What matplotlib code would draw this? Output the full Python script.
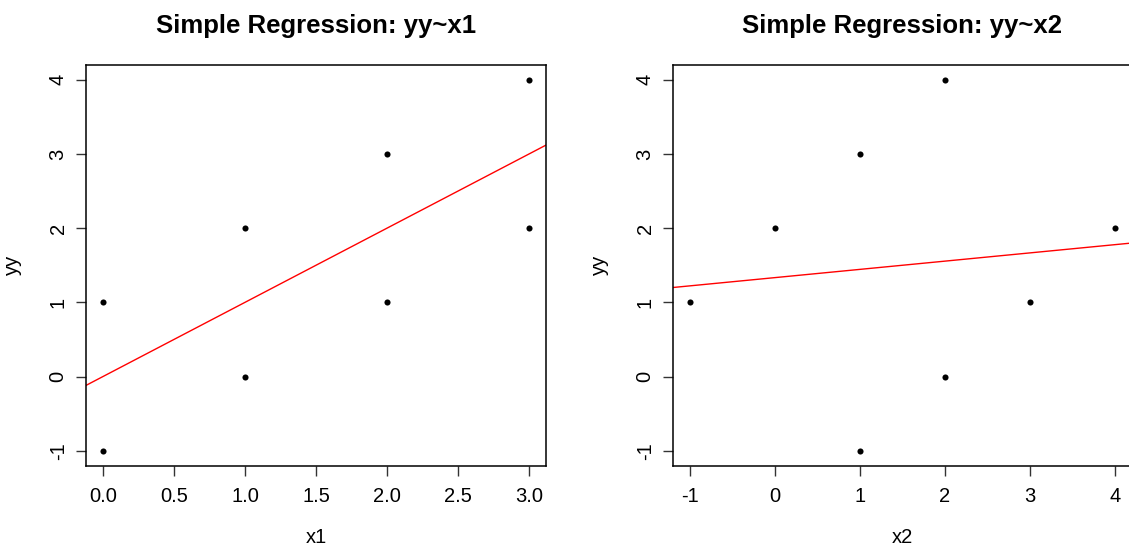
import numpy as np
import matplotlib
matplotlib.use('Agg')
import matplotlib.pyplot as plt

plt.rcParams['font.family'] = ['Liberation Sans', 'DejaVu Sans']

# data
yy = [1, -1, 2, 0, 3, 1, 4, 2]
x1 = [0, 0, 1, 1, 2, 2, 3, 3]
x2 = [3, 1, 0, 2, 1, -1, 2, 4]

x1_ticks = [0.0, 0.5, 1.0, 1.5, 2.0, 2.5, 3.0]
x2_ticks = [-1, 0, 1, 2, 3, 4]
y_ticks = [-1, 0, 1, 2, 3, 4]

W, H = 1129, 547
fig = plt.figure(figsize=(W / 100, H / 100), dpi=100)


def r_range(v):
    # R-style 4% padding
    lo, hi = min(v), max(v)
    pad = 0.04 * (hi - lo)
    return lo - pad, hi + pad


def panel(box, x, y, xticks, xfmt, xlabel, title):
    l, t, r, b = box
    ax = fig.add_axes([l / W, 1 - b / H, (r - l) / W, (b - t) / H])
    ax.set_xlim(*r_range(x))
    ax.set_ylim(*r_range(y))
    ax.plot(x, y, 'o', color='black', markersize=4.4, markeredgewidth=0)
    slope, icpt = np.polyfit(x, y, 1)
    ax.axline((0, icpt), slope=slope, color='red', linewidth=1)
    ax.set_xticks(xticks)
    ax.set_xticklabels([xfmt.format(v) for v in xticks])
    ax.set_yticks(y_ticks)
    ax.set_yticklabels([str(v) for v in y_ticks], rotation=90, va='center')
    ax.tick_params(length=7.2, width=1, labelsize=14.5, color='#333333')
    ax.tick_params(axis='x', pad=8)
    ax.tick_params(axis='y', pad=6)
    for s in ax.spines.values():
        s.set_linewidth(1.1)
        s.set_color('black')
    cx = (l + r) / 2
    fig.text(cx / W, 1 - 543 / H, xlabel, fontsize=14.5, ha='center',
             va='baseline')
    fig.text((l - 73.5) / W, 1 - (t + b) / 2 / H, 'yy', fontsize=14.5,
             rotation=90, ha='center', va='center')
    fig.text(cx / W, 1 - 33 / H, title, fontsize=18.5, fontweight='bold',
             ha='center', va='baseline')
    return ax


panel((86, 65, 546, 465.5), x1, yy, x1_ticks, '{:.1f}', 'x1',
      'Simple Regression: yy~x1')
panel((673, 65, 1132, 465.5), x2, yy, x2_ticks, '{:d}', 'x2',
      'Simple Regression: yy~x2')

fig.savefig('out.png', dpi=100)
